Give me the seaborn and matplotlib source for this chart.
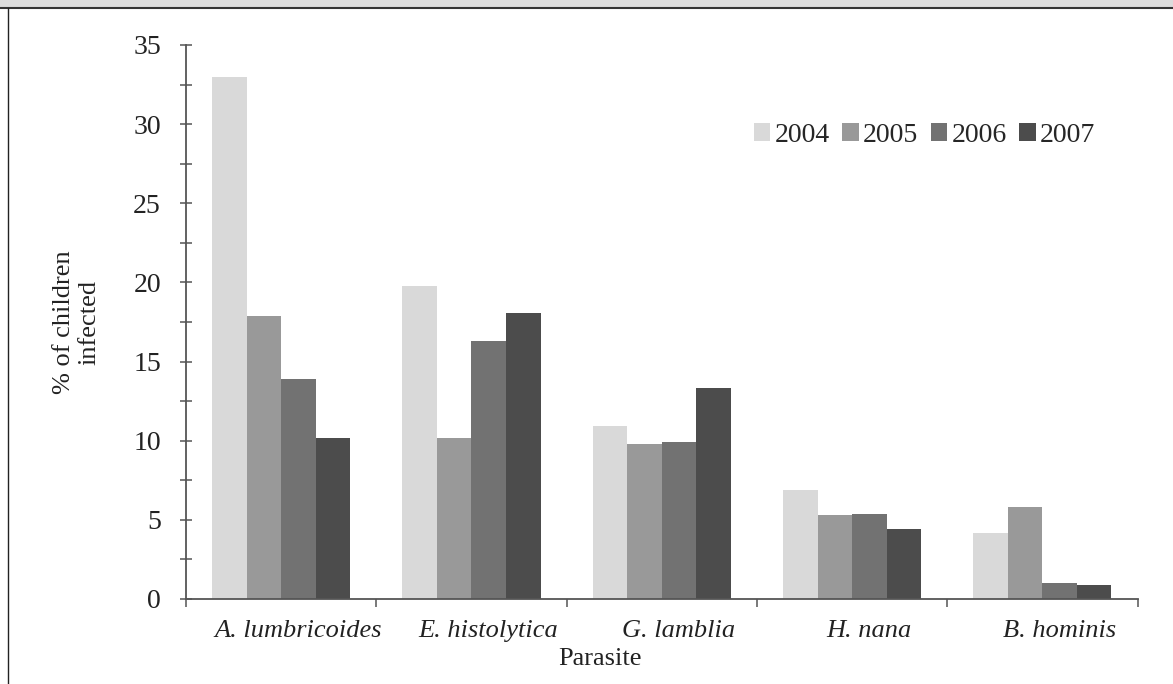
import pandas as pd
import numpy as np
import matplotlib.pyplot as plt
import matplotlib.transforms as mtransforms
import seaborn as sns
from matplotlib.ticker import MultipleLocator, FixedLocator

# data
parasites = ['A. lumbricoides', 'E. histolytica', 'G. lamblia', 'H. nana', 'B. hominis']
years = ['2004', '2005', '2006', '2007']
pct_2004 = [33.0, 19.8, 10.9, 6.9, 4.2]
pct_2005 = [17.9, 10.2, 9.8, 5.3, 5.8]
pct_2006 = [13.9, 16.3, 9.9, 5.4, 1.0]
pct_2007 = [10.2, 18.1, 13.3, 4.4, 0.9]
bar_colors = ['#d9d9d9', '#999999', '#727272', '#4c4c4c']

df = pd.DataFrame({'Parasite': parasites,
                   '2004': pct_2004, '2005': pct_2005,
                   '2006': pct_2006, '2007': pct_2007})
long = df.melt(id_vars='Parasite', var_name='Year', value_name='Pct')

sns.set_style('white')
plt.rcParams['font.family'] = ['Liberation Serif', 'DejaVu Serif']

fig = plt.figure(figsize=(11.73, 6.84), dpi=100)
ax = fig.add_axes([186 / 1173, 1 - 599 / 684, (1137.5 - 186) / 1173, (599 - 45) / 684])

sns.barplot(data=long, x='Parasite', y='Pct', hue='Year', hue_order=years,
            palette=bar_colors, width=0.726, saturation=1, ax=ax,
            linewidth=0, errorbar=None)

axis_col = '#555555'
txt_col = '#222222'
fs = 19
ax.set_ylim(0, 35)
ax.set_xlim(-0.5, len(parasites) - 0.5)
for s in ['top', 'right']:
    ax.spines[s].set_visible(False)
for s in ['left', 'bottom']:
    ax.spines[s].set_color(axis_col)
    ax.spines[s].set_linewidth(1.3)

ax.yaxis.set_major_locator(MultipleLocator(5))
ax.yaxis.set_minor_locator(MultipleLocator(2.5))
ax.tick_params(axis='y', which='both', direction='inout', length=8, width=1.1,
               color=axis_col, labelsize=fs + 1, labelcolor=txt_col, pad=14, left=True)
ax.xaxis.set_minor_locator(FixedLocator(np.arange(-0.5, len(parasites), 1.0)))
ax.tick_params(axis='x', which='major', length=0, labelsize=fs,
               labelcolor=txt_col, pad=15)
ax.tick_params(axis='x', which='minor', direction='out', length=6, width=1.1,
               color=axis_col, bottom=True)
# category names sit a little right of the group centres in the original
shift = mtransforms.ScaledTranslation(17 / 100, 0, fig.dpi_scale_trans)
for lbl in ax.get_xticklabels():
    lbl.set_style('italic')
    lbl.set_transform(lbl.get_transform() + shift)

ax.set_xlabel('Parasite', fontsize=fs, color=txt_col)
ax.xaxis.set_label_coords(0.435, -0.088)
ax.set_ylabel('% of children\ninfected', fontsize=fs, color=txt_col)
ax.yaxis.set_label_coords(-0.09, 0.5)

ax.legend(loc='center left', bbox_to_anchor=(0.585, 0.837), ncol=4, frameon=False,
          fontsize=fs + 1, handlelength=0.6, handleheight=0.6, handletextpad=0.15,
          columnspacing=0.45, borderaxespad=0)

# cropped caption strip at top and the page frame on the left
fig.patches.append(plt.Rectangle((0, 1 - 7 / 684), 1, 7 / 684, transform=fig.transFigure,
                                 facecolor='#dcdcdc', edgecolor='none'))
fig.lines.append(plt.Line2D([0, 1], [1 - 8 / 684, 1 - 8 / 684], transform=fig.transFigure,
                            color='#333333', linewidth=1.5))
fig.lines.append(plt.Line2D([8 / 1173, 8 / 1173], [0, 1 - 8 / 684], transform=fig.transFigure,
                            color='#222222', linewidth=1.0))

fig.savefig('out.png', dpi=100)
